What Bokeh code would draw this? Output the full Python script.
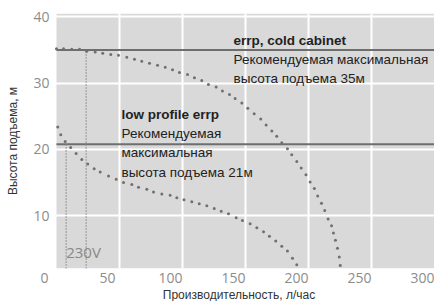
from bokeh.plotting import figure
from bokeh.models import (Range1d, FixedTicker, Label, Title, LinearAxis, BoxAnnotation)
from bokeh.embed import file_html
from bokeh.resources import INLINE

# ---- data ----
x_ticks = [0, 50, 100, 150, 200, 250, 300]
x_grid = [50, 100, 150, 200, 250]
y_ticks = [10, 20, 30, 40]

cold_x = [0, 5.6, 12.1, 18.3, 24.0, 30.7, 36.7, 43.1, 49.2, 55.8, 61.9, 67.7, 73.8, 80.2,
          86.3, 92.1, 97.6, 104.0, 109.5, 115.3, 120.6, 126.7, 131.7, 137.3, 141.8, 147.1,
          151.8, 156.9, 162.1, 166.4, 170.9, 174.8, 178.8, 183.3, 186.7, 190.7, 194.2, 198.0,
          201.3, 204.6, 207.3, 210.3, 212.9, 215.6, 218.3, 219.8, 221.4, 223.0, 224.4, 225.2]
cold_y = [35.2, 35.2, 35.1, 35.1, 34.8, 34.7, 34.5, 34.3, 34.2, 33.9, 33.6, 33.3, 33.0, 32.7,
          32.4, 32.0, 31.6, 31.3, 30.8, 30.4, 29.8, 29.4, 28.8, 28.3, 27.7, 27.0,
          26.2, 25.4, 24.6, 23.7, 22.8, 22.0, 21.0, 20.1, 19.2, 18.2, 17.2, 16.2,
          15.1, 14.1, 13.0, 11.9, 10.8, 9.5, 8.5, 7.4, 6.3, 5.1, 3.8, 2.5]

low_x = [1.0, 3.4, 6.9, 11.3, 15.6, 20.1, 24.8, 29.9, 34.7, 41.3, 47.4, 53.2, 59.8, 65.1,
         71.7, 77.0, 83.6, 90.2, 95.5, 101.2, 107.4, 113.3, 119.3, 125.2, 130.7, 136.5,
         142.6, 147.6, 153.7, 159.0, 164.3, 169.0, 174.0, 178.8, 183.3, 187.3, 190.7]
low_y = [23.4, 22.2, 21.2, 20.3, 19.4, 18.5, 17.8, 17.1, 16.6, 16.0, 15.5, 15.0, 14.7, 14.3,
         14.0, 13.6, 13.3, 13.1, 12.7, 12.4, 12.1, 11.8, 11.5, 11.1, 10.7, 10.3,
         9.7, 9.3, 8.8, 8.2, 7.6, 6.9, 6.2, 5.4, 4.7, 3.6, 2.6]

limit_levels = [35, 20.8]          # recommended max lift: cold cabinet, low profile
cross_x = [23.6, 7.7]              # flow at those levels (230V)

cold_lines = ["errp, cold cabinet", "Рекомендуемая максимальная", "высота подъема 35м"]
low_lines = ["low profile errp", "Рекомендуемая", "максимальная", "высота подъема 21м"]

X0, X1 = 0, 300
Y0 = 2.05
LABEL_SHIFT = 9.5   # tick labels sit a little left of their gridlines in the source

p = figure(width=434, height=301, output_backend="svg", toolbar_location=None,
           x_range=Range1d(-10.3, X1), y_range=Range1d(Y0, 40.5),
           min_border_left=43, min_border_right=0, min_border_top=13, min_border_bottom=10)
p.extra_x_ranges = {"lbl": Range1d(-10.3 + LABEL_SHIFT, X1 + LABEL_SHIFT)}

p.background_fill_color = "white"
p.border_fill_color = "white"
p.outline_line_color = None
p.add_layout(BoxAnnotation(left=X0, right=X1, fill_color="#d9d9d9", fill_alpha=1,
                           line_color=None, level="image"))

p.xaxis.visible = False
p.xgrid.ticker = FixedTicker(ticks=x_grid)
p.ygrid.ticker = FixedTicker(ticks=y_ticks)
p.yaxis.ticker = FixedTicker(ticks=y_ticks)

xa = LinearAxis(x_range_name="lbl", ticker=FixedTicker(ticks=x_ticks))
p.add_layout(xa, "below")

for ax in (xa, p.yaxis[0]):
    ax.axis_line_color = None
    ax.major_tick_line_color = None
    ax.minor_tick_line_color = None
    ax.major_tick_out = 0
    ax.major_tick_in = 0
    ax.minor_tick_out = 0
    ax.minor_tick_in = 0
    ax.major_label_text_color = "#8c8c8c"
    ax.major_label_text_font = "Open Sans"
    ax.major_label_text_font_size = "14px"
xa.major_label_standoff = 4

ya = p.yaxis[0]
ya.axis_label = "Высота подъема, м"
ya.axis_label_text_color = "#333333"
ya.axis_label_text_font = "Liberation Sans"
ya.axis_label_text_font_size = "12px"
ya.axis_label_text_font_style = "normal"
ya.major_label_standoff = -6
ya.axis_label_standoff = 10

p.add_layout(Title(text="Производительность, л/час", align="center", standoff=0, offset=6,
                   text_font="Liberation Sans", text_font_size="12px",
                   text_font_style="normal", text_color="#333333"), "below")

p.grid.grid_line_color = "white"
p.grid.grid_line_width = 2

p.segment(x0=[X0] * len(limit_levels), y0=limit_levels, x1=[X1] * len(limit_levels),
          y1=limit_levels, line_color="#6e6e6e", line_width=2)

p.segment(x0=cross_x, y0=[Y0] * len(cross_x), x1=cross_x, y1=limit_levels,
          line_color="#858585", line_width=1.6, line_dash="1 2")

p.scatter(cold_x, cold_y, size=3, color="#707070", line_color=None)
p.scatter(low_x, low_y, size=3, color="#707070", line_color=None)

def add_block(lines, x, y_top, dy):
    for i, t in enumerate(lines):
        p.add_layout(Label(x=x, y=y_top - i * dy, text=t, text_font="Liberation Sans",
                           text_font_size="13.5px", text_color="#222222",
                           text_font_style="bold" if i == 0 else "normal",
                           text_baseline="middle", text_align="left"))

add_block(cold_lines, 140.5, 36.4, 2.85)
add_block(low_lines, 51.6, 25.3, 2.9)

p.add_layout(Label(x=7.7, y=4.6, text="230V", text_font="Open Sans", text_font_size="15px",
                   text_color="#888888", text_baseline="middle", text_align="left"))

open("out.html", "w").write(file_html(p, INLINE))
